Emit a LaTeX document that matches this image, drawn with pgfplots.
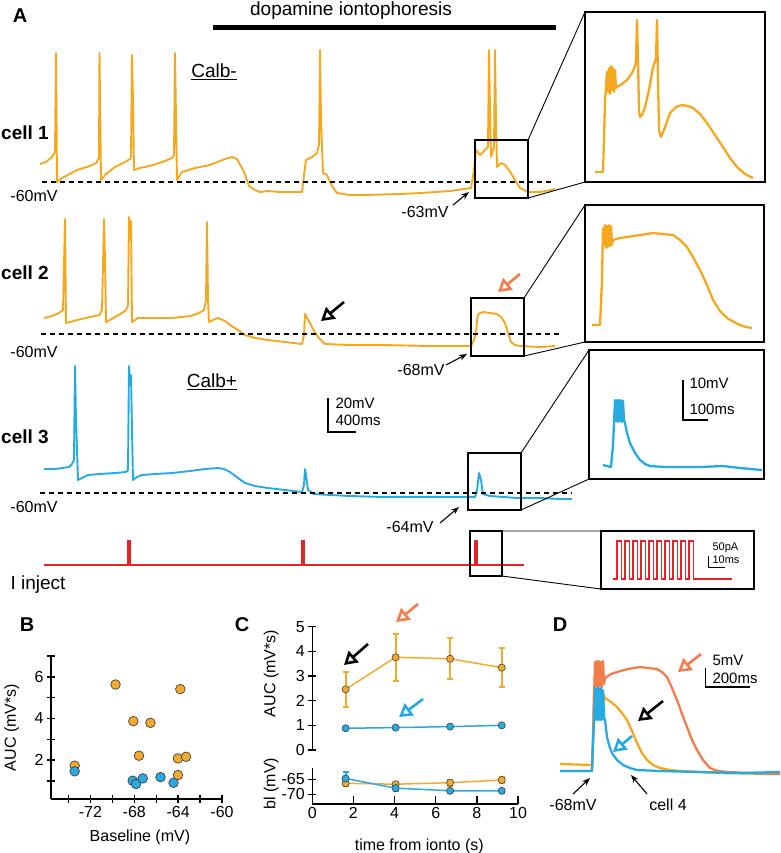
\documentclass[border=0pt]{standalone}
\usepackage{fontspec}
\setmainfont{Liberation Sans}
\usepackage{pgfplots}
\pgfplotsset{compat=1.18}
\usetikzlibrary{arrows.meta}

\definecolor{ora}{RGB}{245,168,30}
\definecolor{oraM}{RGB}{244,170,45}
\definecolor{blu}{RGB}{38,170,226}
\definecolor{bluM}{RGB}{40,170,225}
\definecolor{rd}{RGB}{228,35,40}
\definecolor{coral}{RGB}{240,125,75}

\newcommand{\fs}[1]{\fontsize{#1}{#1}\selectfont}

\tikzset{
  openarr/.style={line width=2.6pt, -{Triangle[open,length=13pt,width=15pt]}},
  smallarr/.style={line width=1.1pt, -{Stealth[length=8pt,width=6pt]}},
}
\pgfplotsset{
  trace/.style={line width=1.9pt, mark=none, line join=round},
  itrace/.style={line width=2.3pt, mark=none, line join=round},
  panel/.style={scale only axis, clip=false,
    axis line style={line width=1.4pt}, tick style={black, line width=1.4pt},
    tick label style={font=\fs{16}}, label style={font=\fs{16}},
    /pgf/number format/assume math mode=true},
  ebars/.style={color=#1, mark=none, forget plot, only marks,
    error bars/.cd, y dir=both, y explicit,
    error bar style={color=#1, solid, line width=2pt},
    error mark options={rotate=90, color=#1, mark size=3pt, line width=2pt}},
  meanline/.style={#1, line width=1.5pt, mark=*, mark size=3.6pt,
    mark options={fill=#1, draw=black!75, line width=0.6pt}},
}

\begin{document}
\begin{tikzpicture}
\useasboundingbox (0,0) rectangle (780pt,-853pt);

% ---------------- panel B ----------------
\begin{axis}[panel, at={(51pt,-799pt)}, anchor=south west,
  width=171pt, height=143pt,
  xmin=-75.6, xmax=-60, ymin=0.13, ymax=7,
  axis lines*=left, tick align=center,
  major tick length=8pt, minor tick length=8pt,
  xtick={-72,-68,-64,-60}, minor xtick={-74,-70,-66,-62},
  ytick={2,4,6}, minor ytick={1,3,5,7},
  xlabel={Baseline (mV)}, ylabel={AUC (mV*s)},
  xlabel style={at={(axis description cs:0.52,-0.27)}, anchor=center},
  ylabel style={at={(axis description cs:-0.23,0.5)}, anchor=center},
]
\addplot[only marks, mark=*, mark size=4.8pt, mark options={fill=oraM, draw=black!75, line width=0.7pt}]
  coordinates {(-73.44,1.73) (-69.71,5.63) (-68.09,3.87) (-66.53,3.79) (-67.57,2.21)
               (-63.80,5.41) (-64.02,2.08) (-63.28,2.16) (-64.02,1.28)};
\addplot[only marks, mark=*, mark size=4.8pt, mark options={fill=bluM, draw=black!75, line width=0.7pt}]
  coordinates {(-73.44,1.46) (-68.15,1.01) (-67.84,0.85) (-67.23,1.12) (-65.61,1.18) (-64.42,0.91)};
\end{axis}

% ---------------- panel C, upper ----------------
\begin{axis}[panel, at={(312.3pt,-750pt)}, anchor=south west,
  width=205.7pt, height=123.3pt,
  xmin=0, xmax=10, ymin=0, ymax=5,
  axis x line=none, axis y line*=left, tick align=center, major tick length=8pt,
  ytick={0,1,2,3,4,5},
  ylabel={AUC (mV*s)},
  ylabel style={at={(axis description cs:-0.2,0.62)}, anchor=center},
]
\addplot[ebars=oraM]
  coordinates {(1.62,2.46) +- (0,0.72) (4.05,3.76) +- (0,0.96) (6.70,3.70) +- (0,0.84) (9.21,3.34) +- (0,0.80)};
\addplot[meanline=oraM] coordinates {(1.62,2.46) (4.05,3.76) (6.70,3.70) (9.21,3.34)};
\addplot[meanline=bluM] coordinates {(1.62,0.88) (4.05,0.91) (6.70,0.95) (9.21,1.00)};
\end{axis}

% ---------------- panel C, lower ----------------
\begin{axis}[panel, at={(312.3pt,-804pt)}, anchor=south west,
  width=205.7pt, height=36pt,
  xmin=0, xmax=10, ymin=-73.2, ymax=-61.2,
  axis lines*=left, major tick length=8pt,
  xtick align=inside, ytick align=center,
  xtick={0,2,...,10}, ytick={-70,-65},
  xlabel={time from ionto (s)}, ylabel={bl (mV)},
  xlabel style={at={(axis description cs:0.52,-1.17)}, anchor=center},
  ylabel style={at={(axis description cs:-0.2,0.57)}, anchor=center},
]
\addplot[ebars=oraM]
  coordinates {(1.62,-66.3) +- (0,1.0) (4.05,-66.6) +- (0,0.9) (6.70,-66.1) +- (0,1.0) (9.21,-65.2) +- (0,1.0)};
\addplot[ebars=bluM]
  coordinates {(1.62,-64.7) +- (0,2.3) (4.05,-67.9) +- (0,0.8) (6.70,-68.8) +- (0,0.6) (9.21,-68.8) +- (0,0.6)};
\addplot[meanline=oraM] coordinates {(1.62,-66.3) (4.05,-66.6) (6.70,-66.1) (9.21,-65.2)};
\addplot[meanline=bluM] coordinates {(1.62,-64.7) (4.05,-67.9) (6.70,-68.8) (9.21,-68.8)};
\end{axis}

% ---------------- panel A and D traces, in picture pixels ----------------
\begin{axis}[at={(390pt,-426.5pt)}, anchor=center, scale only axis,
  width=780pt, height=853pt, xmin=0, xmax=780, ymin=0, ymax=853,
  y dir=reverse, hide axis, clip=false]

% cell 1
\addplot[trace, ora] coordinates {
 (40,164) (46,162) (52,157) (55,152) (56,53) (57,182) (62,178) (77,170) (90,166) (96,163)
 (99,158) (99.5,53) (101,180) (106,174) (115,167) (125,162) (130,159) (131,156) (132,55)
 (133,100) (134,170) (140,168) (153,165) (165,161) (172,158) (174,155) (175,53) (177,180)
 (182,172) (195,168) (210,165) (225,159) (232,157) (237,159) (244,172) (249,186) (255,190)
 (260,192) (268,191) (280,192) (302,192) (304,175) (306,160) (312,157) (317,153) (319,145)
 (320,50) (321,120) (323,173) (327,175) (332,186) (337,193) (350,195) (364,195) (400,194)
 (421,193) (450,191) (471,188) (474,170) (476,150) (480,155) (482,153) (485,150) (488,147)
 (489,50) (490,110) (491,157) (493,150) (494,147) (495,50) (496,120) (497,167) (501,163)
 (505,165) (509,170) (515,180) (520,188) (528,192) (540,192) (551,190) (555,189)};
% cell 2
\addplot[trace, ora] coordinates {
 (44,318) (52,316) (59,313) (63,310) (65,219) (66,323) (70,322) (77,320) (90,317) (99.5,315)
 (102,310) (104,219) (105,260) (106,322) (110,320) (115,317) (122,313) (126,310) (128,306)
 (129,217) (130,240) (131,221) (132,322) (138,318) (150,318) (172,318) (190,316) (199,313)
 (204,310) (206,300) (207,222) (208,300) (209,322) (213,320) (218,318) (225,321) (230,325)
 (238,330) (245,335) (255,338) (268,340) (285,342) (302,344) (304,335) (305,314) (307,318)
 (310,323) (314,331) (318,337) (322,341) (325,344) (350,345) (383,345) (430,346) (471,346)
 (474,340) (476,333) (477,320) (478,315) (480,313) (484,312) (490,313) (497,314) (501,317)
 (505,323) (508,333) (511,342) (515,345) (520,346) (540,347) (555,346)};
% cell 3
\addplot[trace, blu] coordinates {
 (44,469) (55,469) (69,467) (72,464) (74,460) (75,366) (76,420) (78,480) (82,478) (88,475)
 (100,474) (115,473) (126,472) (128,470) (129,366) (130,383) (131,375) (132,430) (133,480)
 (137,477) (142,475) (155,474) (172,473) (190,471) (205,469) (218,468) (224,469) (230,472)
 (238,478) (245,483) (255,486) (268,488) (285,490) (302,492) (304,485) (305,469) (306,475)
 (308,490) (314,494) (330,495) (350,496) (383,497) (420,497) (450,497) (475,497) (477,490)
 (479,473) (481,480) (483,494) (490,496) (517,498) (540,498) (560,499) (572,499)};
% current injection
\addplot[rd, line width=2pt, mark=none] coordinates {(44,565) (524,565)};
\addplot[rd, line width=4pt, mark=none] coordinates {(129,565) (129,540)};
\addplot[rd, line width=4pt, mark=none] coordinates {(303,565) (303,540)};
\addplot[rd, line width=4pt, mark=none] coordinates {(476,565) (476,540)};

% -60 mV reference lines
\addplot[black, line width=1.3pt, dash pattern=on 5pt off 4pt, mark=none] coordinates {(42,182) (553,182)};
\addplot[black, line width=1.3pt, dash pattern=on 5pt off 4pt, mark=none] coordinates {(41,334) (559,334)};
\addplot[black, line width=1.3pt, dash pattern=on 5pt off 4pt, mark=none] coordinates {(40,493) (572,493)};

% inset 1
\addplot[itrace, ora] coordinates {
 (595,172) (603,172) (604,140) (605,100) (607,72) (608,92) (609,68) (610,94) (611,66) (612,90)
 (613,68) (614,92) (615,70) (616,88) (617,87) (622,84) (627,80) (632,73) (635,66) (636,60)
 (637,20) (638,60) (639,110) (640,117) (642,115) (645,107) (649,90) (653,67) (655,62) (656,58)
 (657,20) (658,80) (659,130) (661,137) (664,130) (670,113) (676,107) (682,105) (688,106)
 (693,108) (700,114) (707,123) (715,135) (723,147) (730,158) (737,167) (745,174) (753,178)};
% inset 2
\addplot[itrace, ora] coordinates {
 (592,325) (600,325) (602,280) (603,228) (604,245) (605,225) (606,248) (607,226) (608,247)
 (609,225) (610,246) (611,226) (612,245) (613,240) (620,238) (627,237) (640,235) (653,233)
 (663,234) (673,235) (680,240) (687,247) (693,257) (700,270) (707,285) (713,300) (720,311)
 (727,318) (734,322) (740,325) (746,327) (752,328)};
% inset 3
\addplot[itrace, blu] coordinates {
 (603,465) (611,467) (613,445) (614,423) (615,400) (616,421) (617,400) (618,422) (619,400)
 (620,421) (621,400) (622,422) (623,401) (624,420) (625,423) (627,433) (630,443) (635,453)
 (640,460) (645,464) (650,466) (665,467) (677,467) (700,467) (723,466) (740,468) (762,470)};
% inset 4: pulse train
\addplot[rd, line width=1.3pt, mark=none] coordinates {
 (613,579) (617,579) (617,541) (621.5,541) (621.5,579) (625,579) (625,541) (629.5,541)
 (629.5,579) (633,579) (633,541) (637.5,541) (637.5,579) (641,579) (641,541) (645.5,541)
 (645.5,579) (649,579) (649,541) (653.5,541) (653.5,579) (657,579) (657,541) (661.5,541)
 (661.5,579) (665,579) (665,541) (669.5,541) (669.5,579) (673,579) (673,541) (677.5,541)
 (677.5,579) (681,579) (681,541) (685.5,541) (685.5,579) (689,579) (689,541) (693.5,541)
 (693.5,579) (732,579)};

% panel D
\addplot[itrace, ora] coordinates {
 (560,764) (592,765) (593,740) (594,690) (595,710) (596,688) (597,712) (598,690) (599,712)
 (600,690) (601,712) (602,690) (603,710) (604,695) (605,698) (611,702) (617,707) (622,713)
 (627,720) (632,731) (637,743) (642,753) (647,760) (653,765) (660,768) (670,770) (680,771)
 (720,773) (780,774)};
\addplot[itrace, coral] coordinates {
 (560,771) (592,771) (594,700) (595,662) (596,686) (597,661) (598,687) (599,661) (600,686)
 (601,662) (602,687) (603,661) (604,684) (605,678) (611,674) (617,672) (628,669) (640,667)
 (648,668) (657,669) (662,672) (667,677) (672,688) (677,700) (682,714) (687,727) (692,740)
 (697,750) (703,760) (710,768) (718,771) (727,772) (750,773) (780,774)};
\addplot[itrace, blu] coordinates {
 (560,771) (592,771) (594,720) (595,688) (596,720) (597,688) (598,720) (599,688) (600,720)
 (601,688) (602,720) (603,690) (604,718) (605,720) (607,737) (610,748) (612,753) (617,760)
 (623,765) (630,768) (637,770) (660,771) (700,772) (740,773) (780,772)};

% boxes, insets and connectors
\draw[line width=2.6pt] (475,140) rectangle (528,198);
\draw[line width=2.6pt] (585,12) rectangle (765,182);
\draw[line width=0.9pt] (528,140) -- (585,12) (528,198) -- (585,182);
\draw[line width=2.6pt] (471,298) rectangle (524,356);
\draw[line width=2.6pt] (585,205) rectangle (764,342);
\draw[line width=0.9pt] (524,298) -- (585,205) (524,356) -- (585,342);
\draw[line width=2.6pt] (468,453) rectangle (521,510);
\draw[line width=2.6pt] (589,350) rectangle (764,479);
\draw[line width=0.9pt] (521,453) -- (589,350) (521,510) -- (589,479);
\draw[line width=2.6pt] (470,531) rectangle (502,576);
\draw[line width=2.6pt] (601,531) rectangle (754,589);
\draw[line width=0.9pt] (502,531) -- (601,531) (502,576) -- (601,589);

% texts of panel A
\node[font=\fs{20}\bfseries] at (20,16) {A};
\node[font=\fs{19}] at (351,11) {dopamine iontophoresis};
\draw[line width=5pt] (213,27) -- (556,27);
\node[font=\fs{19}] at (214,72) {\underline{Calb-}};
\node[font=\fs{19}] at (212,382) {\underline{Calb+}};
\node[font=\fs{19}\bfseries] at (25,133) {cell 1};
\node[font=\fs{19}\bfseries] at (25,273) {cell 2};
\node[font=\fs{19}\bfseries] at (25,437) {cell 3};
\node[font=\fs{16}] at (34,196) {-60mV};
\node[font=\fs{16}] at (34,352) {-60mV};
\node[font=\fs{16}] at (34,507) {-60mV};
\node[font=\fs{16}] at (425,212) {-63mV};
\draw[smallarr] (453,205) -- (469,192);
\node[font=\fs{16}] at (421,370) {-68mV};
\draw[smallarr] (446,365) -- (467,354);
\node[font=\fs{16}] at (410,527) {-64mV};
\draw[smallarr] (440,523) -- (459,507);
\node[font=\fs{19}] at (38,585) {I inject};
\draw[line width=1.2pt] (328,398) -- (328,432) -- (356,432);
\node[font=\fs{15}, anchor=west] at (332,403) {20mV};
\node[font=\fs{15}, anchor=west] at (332,420) {400ms};
\draw[line width=1.2pt] (683,380) -- (683,420) -- (708,420);
\node[font=\fs{15}, anchor=west] at (686,383) {10mV};
\node[font=\fs{15}, anchor=west] at (686,409) {100ms};
\draw[line width=1pt] (708,556) -- (708,567) -- (725,567);
\node[font=\fs{11}, anchor=west] at (709,548) {50pA};
\node[font=\fs{11}, anchor=west] at (709,560) {10ms};
\draw[openarr, black] (344,302) -- (321,321);
\draw[openarr, coral] (520,274) -- (498,292);

% panel letters
\node[font=\fs{20}\bfseries] at (27,625) {B};
\node[font=\fs{20}\bfseries] at (242,625) {C};
\node[font=\fs{20}\bfseries] at (560,625) {D};

% panel C arrows
\draw[openarr, black] (368,644) -- (344,665);
\draw[openarr, coral] (418,604) -- (396,622);
\draw[openarr, blu] (423,699) -- (399,717);

% panel D annotations
\draw[openarr, coral] (701,654) -- (678,672);
\draw[openarr, black] (663,701) -- (638,721);
\draw[openarr, blu] (632,736) -- (613,752);
\draw[smallarr] (573,794) -- (590,778);
\node[font=\fs{16}] at (573,805) {-68mV};
\draw[smallarr] (647,794) -- (631,775);
\node[font=\fs{16}] at (668,805) {cell 4};
\draw[line width=1.2pt] (705.7,668) -- (705.7,687) -- (750,687);
\node[font=\fs{15}, anchor=west] at (709,660) {5mV};
\node[font=\fs{15}, anchor=west] at (709,678) {200ms};
\end{axis}
\end{tikzpicture}
\end{document}
